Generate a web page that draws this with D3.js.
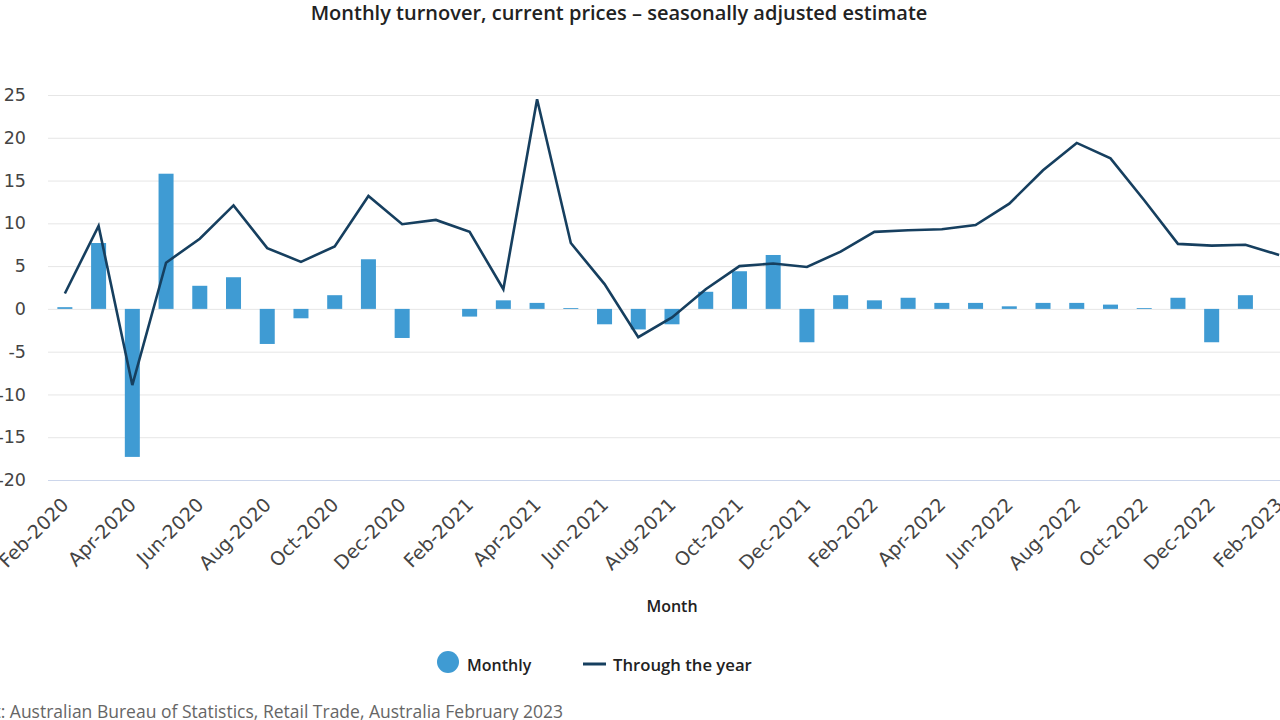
<!DOCTYPE html>
<html>
<head>
<meta charset="utf-8">
<script src="https://cdn.jsdelivr.net/npm/d3@7"></script>
<style>
  html, body { margin: 0; padding: 0; background: #fff; overflow: hidden; }
  svg { display: block; font-family: "Open Sans", sans-serif; }
</style>
</head>
<body>
<svg id="chart" width="1280" height="720"></svg>
<script>
const months = ["Feb-2020","Mar-2020","Apr-2020","May-2020","Jun-2020","Jul-2020","Aug-2020","Sep-2020","Oct-2020","Nov-2020","Dec-2020",
  "Jan-2021","Feb-2021","Mar-2021","Apr-2021","May-2021","Jun-2021","Jul-2021","Aug-2021","Sep-2021","Oct-2021","Nov-2021","Dec-2021",
  "Jan-2022","Feb-2022","Mar-2022","Apr-2022","May-2022","Jun-2022","Jul-2022","Aug-2022","Sep-2022","Oct-2022","Nov-2022","Dec-2022",
  "Jan-2023","Feb-2023"];
const monthly = [0.2, 7.7, -17.3, 15.8, 2.7, 3.7, -4.1, -1.1, 1.6, 5.8, -3.4,
  0, -0.9, 1.0, 0.7, 0.1, -1.8, -2.4, -1.8, 2.0, 4.4, 6.3, -3.9,
  1.6, 1.0, 1.3, 0.7, 0.7, 0.3, 0.7, 0.7, 0.5, 0.1, 1.3, -3.9,
  1.6, 0];
const throughYear = [1.8, 9.7, -8.9, 5.4, 8.2, 12.1, 7.1, 5.5, 7.3, 13.2, 9.9,
  10.4, 9.0, 2.3, 24.5, 7.7, 2.9, -3.3, -1.0, 2.3, 5.0, 5.3, 4.9,
  6.7, 9.0, 9.2, 9.3, 9.8, 12.3, 16.2, 19.4, 17.6, 12.7, 7.6, 7.4,
  7.5, 6.3];
const yTicks = [-20, -15, -10, -5, 0, 5, 10, 15, 20, 25];
const xTickLabels = months.filter((m, i) => i % 2 === 0);
const seriesNames = ["Monthly", "Through the year"];
const titleText = "Monthly turnover, current prices \u2013 seasonally adjusted estimate";
const xAxisTitle = "Month";
const sourceText = "Chart: Australian Bureau of Statistics, Retail Trade, Australia February 2023";

const barColor = "#3f9bd3";
const lineColor = "#163f5f";
const tickFont = "DejaVu Sans, sans-serif";

const svg = d3.select("#chart");
const plotLeft = 48, plotRight = 1296, plotTop = 95, plotBottom = 480;

const x = d3.scaleBand().domain(months).range([plotLeft, plotRight]).paddingInner(0.555).paddingOuter(0.2775);
const xc = d => x(d) + x.bandwidth() / 2;
const y = d3.scaleLinear().domain([-20, 25]).range([plotBottom, plotTop]);

// Title
svg.append("text").attr("x", 619).attr("y", 20).attr("text-anchor", "middle")
  .attr("font-size", 20).attr("font-weight", 600).attr("fill", "#222").text(titleText);

// Grid
const yAxis = d3.axisLeft(y).tickValues(yTicks).tickSize(-(1400 - plotLeft)).tickFormat(d => d);
const gy = svg.append("g").attr("transform", `translate(${plotLeft},0)`).call(yAxis);
gy.select(".domain").remove();
gy.selectAll(".tick line").attr("stroke", "#e6e6e6").attr("stroke-width", 1);
gy.selectAll(".tick").filter(d => d === -20).select("line").attr("stroke", "#ccd6eb");
gy.selectAll(".tick text").attr("x", -22).attr("font-size", 17.5).attr("fill", "#444")
  .attr("font-family", tickFont).text(d => d < 0 ? "-" + Math.abs(d) : d);

// Bars
svg.append("g").selectAll("rect").data(months).join("rect")
  .attr("x", d => x(d))
  .attr("width", x.bandwidth())
  .attr("y", (d, i) => y(Math.max(0, monthly[i])))
  .attr("height", (d, i) => Math.abs(y(monthly[i]) - y(0)))
  .attr("fill", barColor)
  .attr("stroke", (d, i) => monthly[i] === 0 ? "#fff" : "none")
  .attr("stroke-width", 1);

// Line
const line = d3.line().x((d, i) => xc(months[i])).y(d => y(d));
svg.append("path").datum(throughYear).attr("d", line)
  .attr("fill", "none").attr("stroke", lineColor).attr("stroke-width", 2.6)
  .attr("stroke-linejoin", "miter");

// X axis labels
const xAxis = d3.axisBottom(x).tickValues(xTickLabels).tickSize(0);
const gx = svg.append("g").attr("transform", `translate(0,${plotBottom})`).call(xAxis);
gx.select(".domain").remove();
gx.selectAll(".tick text")
  .attr("font-size", 19).attr("fill", "#444").attr("font-family", tickFont)
  .attr("text-anchor", "end").attr("dy", 0).attr("y", 0)
  .attr("transform", "translate(5,26) rotate(-45)");

// X axis title
svg.append("text").attr("x", 672).attr("y", 612).attr("text-anchor", "middle")
  .attr("font-size", 16).attr("font-weight", 600).attr("fill", "#222").text(xAxisTitle);

// Legend
const lg = svg.append("g");
lg.append("circle").attr("cx", 448).attr("cy", 662).attr("r", 11).attr("fill", barColor);
lg.append("text").attr("x", 467).attr("y", 671).attr("font-size", 16).attr("font-weight", 600)
  .attr("fill", "#222").text(seriesNames[0]);
lg.append("line").attr("x1", 583).attr("x2", 606).attr("y1", 664).attr("y2", 664)
  .attr("stroke", lineColor).attr("stroke-width", 3);
lg.append("text").attr("x", 613).attr("y", 671).attr("font-size", 16.7).attr("font-weight", 600)
  .attr("fill", "#222").text(seriesNames[1]);

// Source
svg.append("text").attr("x", 563).attr("y", 718).attr("text-anchor", "end")
  .attr("font-size", 17.5).attr("fill", "#666").text(sourceText);
</script>
</body>
</html>
